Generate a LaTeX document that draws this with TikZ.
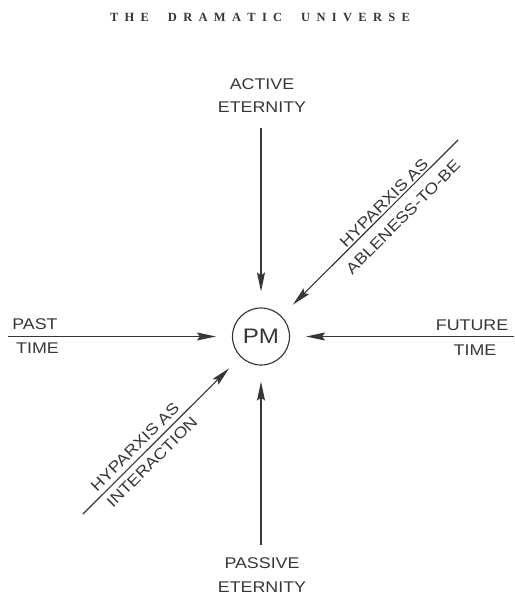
\documentclass[tikz,border=0pt]{standalone}
\usepackage{fontspec}
\usetikzlibrary{arrows.meta}
\newfontfamily\labfam[FakeStretch=1.15]{Liberation Sans}
\newfontfamily\titlefam{Liberation Serif}
\definecolor{ink}{RGB}{55,55,55}
\newcommand{\labfont}{\labfam\fontsize{15.5}{18}\selectfont}
\newcommand{\pmfont}{\labfam\fontsize{21}{24}\selectfont}
\tikzset{
  lab/.style={font=\labfont, text=ink, inner sep=0pt},
  arr/.style={draw=ink, line width=1.15pt, -{Stealth[length=19pt,width=8pt,inset=3pt]}, shorten >=16pt},
}
\begin{document}
\begin{tikzpicture}[x=1pt,y=-1pt]
\useasboundingbox (0,0) rectangle (514,599);
\fill[white] (0,0) rectangle (514,599);
% title
\node[inner sep=0pt, text=ink, font=\titlefam\bfseries\fontsize{12.5}{14}\selectfont] (title) at (260,17)
  {\makebox[300pt][s]{T\hfil H\hfil E\hfil\hfil\hfil D\hfil R\hfil A\hfil M\hfil A\hfil T\hfil I\hfil C\hfil\hfil\hfil U\hfil N\hfil I\hfil V\hfil E\hfil R\hfil S\hfil E}};
% centre
\node[circle, draw=ink, line width=1.15pt, minimum size=57pt, inner sep=0pt, font=\pmfont, text=ink] (pm) at (261,336.5) {PM};
% labels
\node[lab] (act1) at (262,84) {ACTIVE};
\node[lab] (act2) at (262,107) {ETERNITY};
\node[lab] (pas1) at (262,563) {PASSIVE};
\node[lab] (pas2) at (262,587) {ETERNITY};
\node[lab] (past1) at (35,324) {PAST};
\node[lab] (past2) at (37.5,348) {TIME};
\node[lab] (fut1) at (472,325) {FUTURE};
\node[lab] (fut2) at (475,350) {TIME};
\node[lab, rotate=45] (ur1) at (384,203) {HYPARXIS AS};
\node[lab, rotate=45] (ur2) at (403,217) {ABLENESS-TO-BE};
\node[lab, rotate=45] (ll1) at (135,447) {HYPARXIS AS};
\node[lab, rotate=45] (ll2) at (152,462) {INTERACTION};
% connector ends
\coordinate (ctop) at (261,128);
\coordinate (cbot) at (261,545);
\coordinate (cleft) at (8,336.5);
\coordinate (cright) at (514,336.5);
\coordinate (cur) at (458,140);
\coordinate (cll) at (83,514);
\draw[arr] (ctop) -- (pm);
\draw[arr] (cbot) -- (pm);
\draw[arr] (cleft) -- (pm);
\draw[arr] (cright) -- (pm);
\draw[arr] (cur) -- (pm);
\draw[arr] (cll) -- (pm);
\end{tikzpicture}
\end{document}
